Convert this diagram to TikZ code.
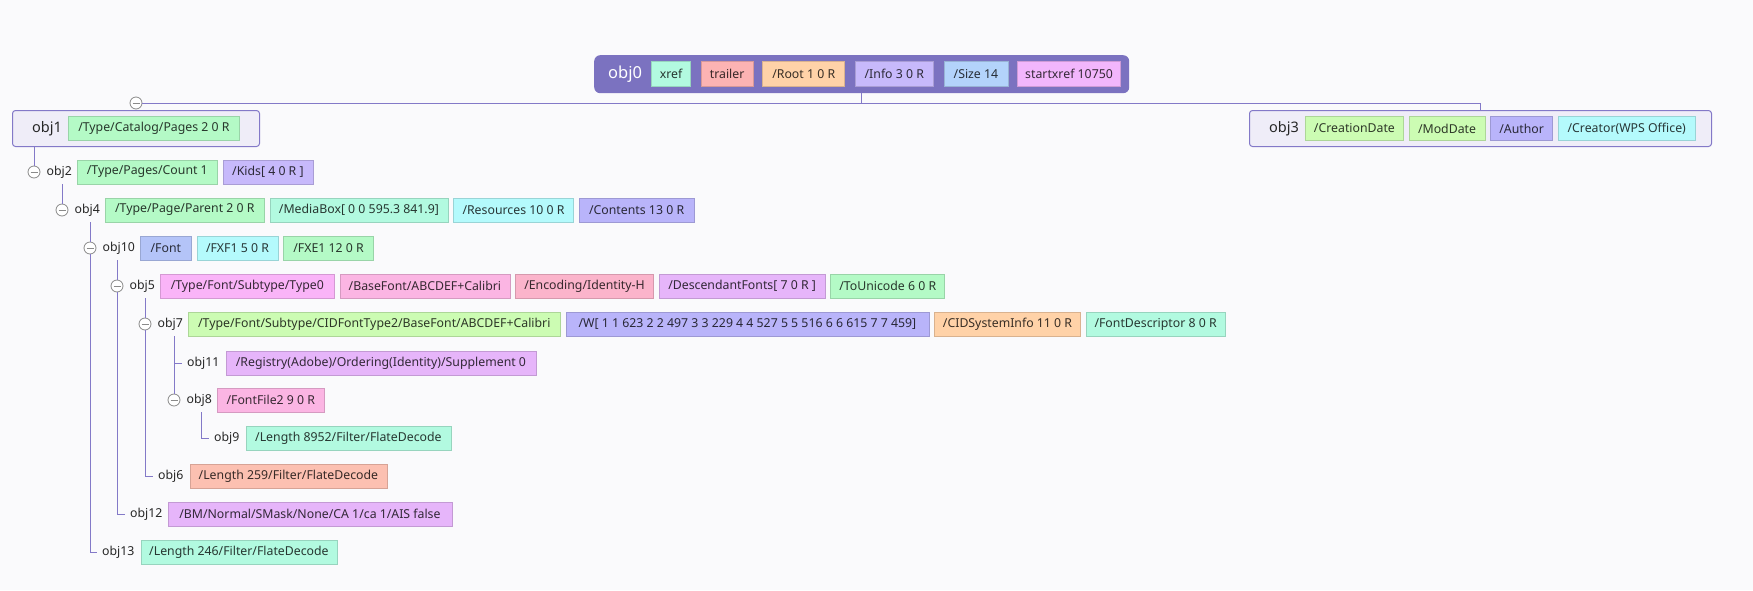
\documentclass[tikz,border=0pt]{standalone}
\usepackage{fontspec}
\setmainfont{Noto Sans}
\usepackage{tikz}
\usetikzlibrary{positioning}

\definecolor{bgcol}{HTML}{FAFAFC}
\definecolor{linkcol}{HTML}{8379C8}
\definecolor{rootcol}{HTML}{7B72C0}
\definecolor{topfill}{HTML}{EFEDF8}
\definecolor{foldcol}{HTML}{8A8A8A}
\definecolor{labelcol}{HTML}{262626}
\definecolor{mint}{HTML}{B2FAE0}
\definecolor{salmon}{HTML}{FCB3B3}
\definecolor{peach}{HTML}{FFD2A8}
\definecolor{lilac}{HTML}{C7B9FB}
\definecolor{sky}{HTML}{B3D3FB}
\definecolor{orchid}{HTML}{F2B6FC}
\definecolor{green}{HTML}{B4FAC6}
\definecolor{lime}{HTML}{CCFCB3}
\definecolor{violet}{HTML}{B9B4FA}
\definecolor{cyan}{HTML}{B4FAFC}
\definecolor{periwinkle}{HTML}{B4C4F8}
\definecolor{pinkish}{HTML}{FAB4F8}
\definecolor{rose}{HTML}{FBB5E3}
\definecolor{blush}{HTML}{FBB4CB}
\definecolor{mauve}{HTML}{E6B5FA}
\definecolor{coral}{HTML}{FCC0B1}

\newcommand\leaffont{\fontsize{12.3}{14}\selectfont}
\newcommand\rootfont{\fontsize{16.5}{18}\selectfont}
\newcommand\topfont{\fontsize{14.5}{16}\selectfont}

\begin{document}
\begin{tikzpicture}[
  x=1pt, y=-1pt,
  node distance = 5pt,
  link/.style = {draw=linkcol, line width=1pt},
  chip/.style = {rectangle, fill=#1, draw=#1!85!black, line width=0.6pt,
                 text=#1!22!black, minimum height=24pt,
                 inner xsep=2pt, inner ysep=0pt, font=\leaffont},
  lbl/.style = {inner sep=0pt, text=labelcol, font=\leaffont},
  fold/.style = {circle, draw=foldcol, fill=white, line width=0.8pt,
                 minimum size=12pt, inner sep=0pt,
                 path picture={\draw[foldcol, line width=0.8pt]
                   ([xshift=-3.5pt]path picture bounding box.center) --
                   ([xshift=3.5pt]path picture bounding box.center);}},
  rootbox/.style = {rectangle, rounded corners=6pt, fill=rootcol,
                    minimum height=38pt, anchor=north west},
  topbox/.style = {rectangle, rounded corners=3pt, draw=linkcol, fill=topfill,
                   line width=1pt, minimum height=36pt, anchor=north west},
]

\fill[bgcol] (0,0) rectangle (1753,590);
\useasboundingbox (0,0) rectangle (1753,590);

\node[rootbox, minimum width=535pt] (obj0) at (594,55) {};
\node[lbl, font=\rootfont, text=white, anchor=west] (l0) at ([xshift=14pt]obj0.west) {obj0};
\node[chip=mint, minimum height=25pt, minimum width=39pt, right=9pt of l0] (xref) {xref};
\node[chip=salmon, minimum height=25pt, minimum width=52pt, right=10pt of xref] (trailer) {trailer};
\node[chip=peach, minimum height=25pt, minimum width=82pt, right=9pt of trailer] (root) {/Root 1 0 R};
\node[chip=lilac, minimum height=25pt, minimum width=78pt, right=10pt of root] (info) {/Info 3 0 R};
\node[chip=sky, minimum height=25pt, minimum width=64pt, right=10pt of info] (size) {/Size 14};
\node[chip=orchid, minimum height=25pt, minimum width=103pt, right=9pt of size] (startx) {startxref 10750};

\node[topbox, minimum width=247pt] (obj1) at (12,110) {};
\node[lbl, font=\topfont, anchor=west] (l1) at ([xshift=20pt]obj1.west) {obj1};
\node[chip=green, minimum width=171pt, right=6pt of l1] (p1a) {/Type/Catalog/Pages 2 0 R};

\node[topbox, minimum width=462pt] (obj3) at (1249,110) {};
\node[lbl, font=\topfont, anchor=west] (l3) at ([xshift=20pt]obj3.west) {obj3};
\node[chip=lime, minimum width=98pt, right=6pt of l3] (p3a) {/CreationDate};
\node[chip=lime, minimum width=76pt, right=of p3a] (p3b) {/ModDate};
\node[chip=violet, minimum width=62pt, right=of p3b] (p3c) {/Author};
\node[chip=cyan, minimum width=137pt, right=of p3c] (p3d) {/Creator(WPS Office)};

\node[fold] (f1) at ([yshift=7pt]obj1.north) {};

\node[fold] (f2) at (34,172) {};
\node[lbl, right=6pt of f2] (l2) {obj2};
\node[chip=green, minimum width=140pt, right=of l2] (p2a) {/Type/Pages/Count 1};
\node[chip=lilac, minimum width=90pt, right=of p2a] (p2b) {/Kids[ 4 0 R ]};

\node[fold] (f4) at (62,210) {};
\node[lbl, right=6pt of f4] (l4) {obj4};
\node[chip=green, minimum width=159pt, right=of l4] (p4a) {/Type/Page/Parent 2 0 R};
\node[chip=mint, minimum width=178pt, right=of p4a] (p4b) {/MediaBox[ 0 0 595.3 841.9]};
\node[chip=cyan, minimum width=120pt, right=of p4b] (p4c) {/Resources 10 0 R};
\node[chip=violet, minimum width=115pt, right=of p4c] (p4d) {/Contents 13 0 R};

\node[fold] (f10) at (90,248) {};
\node[lbl, right=6pt of f10] (l10) {obj10};
\node[chip=periwinkle, minimum width=51pt, right=of l10] (p10a) {/Font};
\node[chip=cyan, minimum width=81pt, right=of p10a] (p10b) {/FXF1 5 0 R};
\node[chip=green, minimum width=90pt, right=of p10b] (p10c) {/FXE1 12 0 R};

\node[fold] (f5) at (117,286) {};
\node[lbl, right=6pt of f5] (l5) {obj5};
\node[chip=pinkish, minimum width=174pt, right=of l5] (p5a) {/Type/Font/Subtype/Type0};
\node[chip=rose, minimum width=170pt, right=of p5a] (p5b) {/BaseFont/ABCDEF+Calibri};
\node[chip=blush, minimum width=138pt, right=of p5b] (p5c) {/Encoding/Identity-H};
\node[chip=mauve, minimum width=166pt, right=of p5c] (p5d) {/DescendantFonts[ 7 0 R ]};
\node[chip=green, minimum width=114pt, right=of p5d] (p5e) {/ToUnicode 6 0 R};

\node[fold] (f7) at (145,324) {};
\node[lbl, right=6pt of f7] (l7) {obj7};
\node[chip=lime, minimum width=372pt, right=of l7] (p7a) {/Type/Font/Subtype/CIDFontType2/BaseFont/ABCDEF+Calibri};
\node[chip=violet, minimum width=363pt, right=of p7a] (p7b) {/W[ 1 1 623 2 2 497 3 3 229 4 4 527 5 5 516 6 6 615 7 7 459]};
\node[chip=peach, minimum width=146pt, right=of p7b] (p7c) {/CIDSystemInfo 11 0 R};
\node[chip=mint, minimum width=139pt, right=of p7c] (p7d) {/FontDescriptor 8 0 R};

\coordinate (t11) at (182,363);
\node[lbl, right=of t11] (l11) {obj11};
\node[chip=mauve, minimum width=310pt, right=6pt of l11] (p11a) {/Registry(Adobe)/Ordering(Identity)/Supplement 0};

\node[fold] (f8) at (174,400) {};
\node[lbl, right=6pt of f8] (l8) {obj8};
\node[chip=rose, minimum width=107pt, right=of l8] (p8a) {/FontFile2 9 0 R};

\coordinate (t9) at (209,438);
\node[lbl, right=of t9] (l9) {obj9};
\node[chip=mint, minimum width=205pt, right=6pt of l9] (p9a) {/Length 8952/Filter/FlateDecode};

\coordinate (t6) at (153,476);
\node[lbl, right=of t6] (l6) {obj6};
\node[chip=coral, minimum width=197pt, right=6pt of l6] (p6a) {/Length 259/Filter/FlateDecode};

\coordinate (t12) at (125,514);
\node[lbl, right=of t12] (l12) {obj12};
\node[chip=mauve, minimum width=284pt, right=of l12] (p12a) {/BM/Normal/SMask/None/CA 1/ca 1/AIS false};

\coordinate (t13) at (97,552);
\node[lbl, right=of t13] (l13) {obj13};
\node[chip=mint, minimum width=196pt, right=6pt of l13] (p13a) {/Length 246/Filter/FlateDecode};

\draw[link] (obj0.south) -- (obj0.south |- f1);
\draw[link] (f1.east) -| (obj3.north);
\draw[link] (f2.north) -- (f2 |- obj1.south);
\draw[link] (f4.north) -- (f4 |- p2a.south);
\draw[link] (f10.north) -- (f10 |- p4a.south);
\draw[link] (f10.south) |- (t13);
\draw[link] (f5.north) -- (f5 |- p10a.south);
\draw[link] (f5.south) |- (t12);
\draw[link] (f7.north) -- (f7 |- p5a.south);
\draw[link] (f7.south) |- (t6);
\draw[link] (f8.north) -- (f8 |- p7a.south);
\draw[link] (f8 |- t11) -- (t11);
\draw[link] ([xshift=-8pt]t9 |- p8a.south) |- (t9);

\end{tikzpicture}
\end{document}
